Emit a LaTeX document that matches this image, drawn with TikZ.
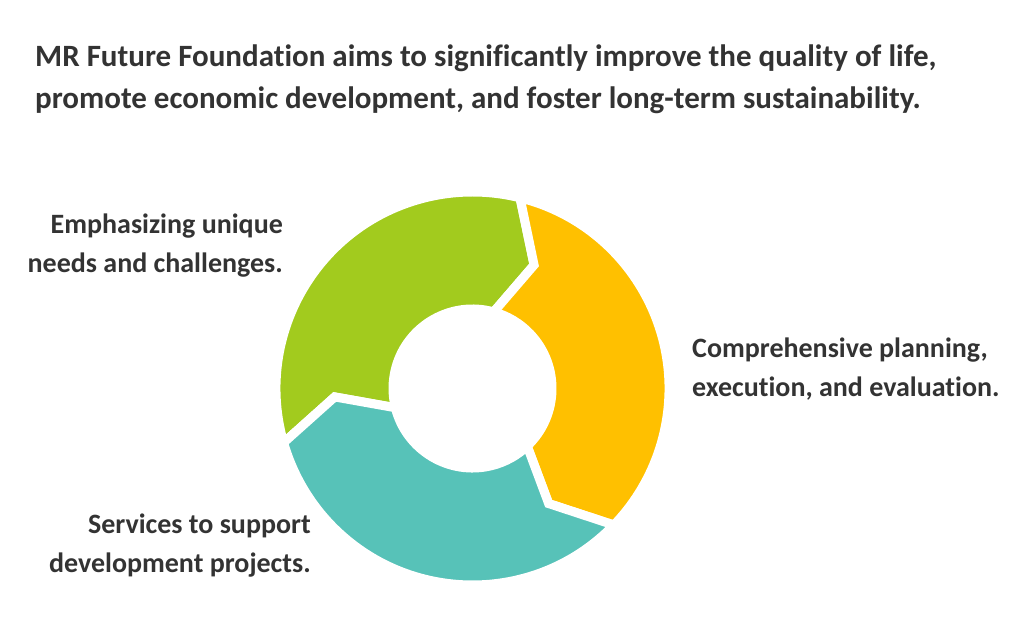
\documentclass[tikz,border=0pt]{standalone}
\usepackage{fontspec}
\setmainfont{Carlito}[Ligatures=NoCommon]
\definecolor{cgreen}{HTML}{A2CB1E}
\definecolor{cyellow}{HTML}{FFC000}
\definecolor{cteal}{HTML}{57C2B8}
\definecolor{ctext}{HTML}{333333}
\begin{document}
\begin{tikzpicture}[x=1pt,y=1pt,
  seg/.style={draw=white, line width=9pt, line join=miter},
  lbl/.style={font=\bfseries\fontsize{28}{39}\selectfont, text=ctext, inner sep=0pt},
  ttl/.style={font=\bfseries\fontsize{31}{42}\selectfont, text=ctext, inner sep=0pt}]
\useasboundingbox (0,0) rectangle (1024,632);
\fill[white] (0,0) rectangle (1024,632);
\begin{scope}[shift={(472.5,243.5)}]
\def\Ro{196.5pt}\def\Ri{79.5pt}\def\Rm{138pt}
\filldraw[seg, fill=cgreen] (196:\Ro) arc[start angle=196,end angle=76,radius=\Ro]
  -- (63.5:\Rm) -- (74.5:\Ri) arc[start angle=74.5,end angle=194,radius=\Ri]
  -- (183.5:\Rm) -- cycle;
\filldraw[seg, fill=cyellow] (76:\Ro) arc[start angle=76,end angle=-44,radius=\Ro]
  -- (-56.5:\Rm) -- (-46.5:\Ri) arc[start angle=-46.5,end angle=74.5,radius=\Ri]
  -- (63.5:\Rm) -- cycle;
\filldraw[seg, fill=cteal] (-44:\Ro) arc[start angle=316,end angle=196,radius=\Ro]
  -- (183.5:\Rm) -- (194:\Ri) arc[start angle=194,end angle=313.5,radius=\Ri]
  -- (-56.5:\Rm) -- cycle;
\end{scope}
\node[ttl, anchor=base west, align=left] (title) at (35,523)
  {MR Future Foundation aims to significantly improve the quality of life,\\
   promote economic development, and foster long-term sustainability.};
\node[lbl, anchor=base east, align=right] (emph) at (283,359)
  {Emphasizing unique\\needs and challenges.};
\node[lbl, anchor=base west, align=left] (comp) at (692,236)
  {Comprehensive planning,\\execution, and evaluation.};
\node[lbl, anchor=base east, align=right] (serv) at (311,60)
  {Services to support\\development projects.};
\end{tikzpicture}
\end{document}
